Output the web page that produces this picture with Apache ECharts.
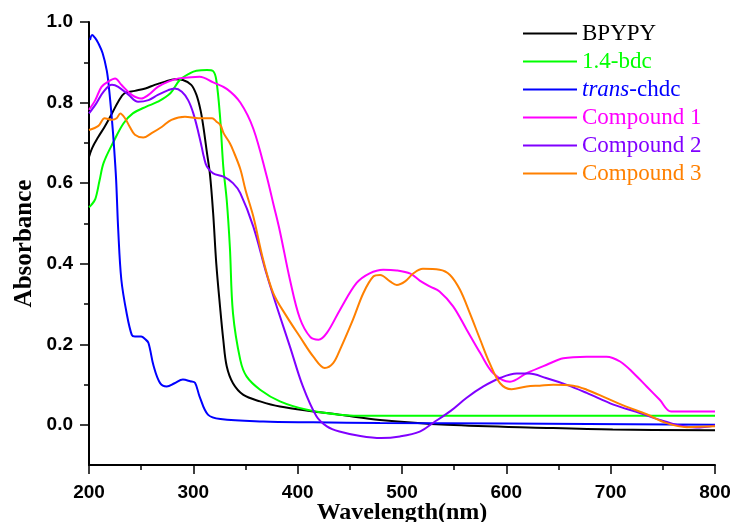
<!DOCTYPE html>
<html>
<head>
<meta charset="utf-8">
<script src="https://cdn.jsdelivr.net/npm/echarts@6/dist/echarts.min.js"></script>
<style>
  html, body { margin: 0; padding: 0; background: #fff; }
  #main { width: 734px; height: 522px; }
</style>
</head>
<body>
<div id="main"></div>
<script>
// 数据 [波长(nm), 吸光度]
var names = ['BPYPY', '1.4-bdc', 'trans-chdc', 'Compound 1', 'Compound 2', 'Compound 3'];
var colors = ['#000000', '#00ff00', '#0000ff', '#ff00ff', '#8000ff', '#ff8000'];
var xTicks = [200, 300, 400, 500, 600, 700, 800];

var bpypy = [[200,0.665],[203,0.687],[209,0.715],[215,0.74],[222,0.773],[228,0.802],[234,0.823],[244,0.829],
  [254,0.835],[263,0.844],[273,0.852],[282,0.858],[290,0.856],[298,0.844],[303,0.819],[307,0.78],[309.6,0.74],
  [312.8,0.68],[316,0.62],[319,0.525],[322,0.40],[325.6,0.293],[328.7,0.211],[332,0.145],[338,0.103],[348,0.074],
  [364,0.058],[383,0.045],[415,0.033],[440,0.025],[479,0.012],[543,0.0],[639,-0.008],[702,-0.012],[800,-0.014]];

var bdc = [[200,0.54],[202,0.545],[206,0.56],[210,0.605],[214,0.65],[223,0.70],[233,0.748],[242,0.773],[255,0.79],
  [266,0.802],[278,0.823],[287,0.856],[297,0.873],[303,0.879],[313,0.881],[319,0.878],[322,0.856],[325.6,0.765],
  [328.7,0.641],[332,0.558],[335,0.442],[338,0.277],[345,0.161],[351,0.12],[364,0.087],[383,0.058],[409,0.037],
  [440,0.025],[470,0.022],[800,0.022]];

var chdc = [[201,0.955],[203,0.968],[206,0.96],[209,0.947],[213,0.923],[217,0.88],[219,0.84],[222,0.757],[224,0.69],
  [226,0.608],[228,0.484],[231,0.36],[236,0.278],[241,0.223],[244,0.219],[250,0.219],[254,0.212],[257,0.203],
  [262,0.145],[268,0.104],[274.5,0.095],[282,0.103],[290,0.112],[297,0.108],[301.6,0.104],[306,0.07],[314,0.025],
  [326,0.014],[367,0.008],[415,0.006],[479,0.004],[600,0.003],[800,0.0]];

var comp1 = [[200,0.782],[206,0.806],[212,0.839],[218.5,0.852],[225,0.86],[231,0.844],[241,0.819],[250,0.81],
  [257,0.819],[266,0.839],[276,0.852],[286,0.86],[298,0.863],[306,0.864],[319,0.85],[332,0.834],[345,0.8],
  [357.5,0.735],[370,0.62],[377,0.545],[383,0.48],[392.6,0.36],[402,0.265],[412,0.218],[420,0.211],[428,0.228],
  [440.5,0.285],[456.5,0.352],[469,0.376],[482,0.385],[495,0.383],[508,0.375],[517,0.358],[527,0.343],[536,0.331],
  [549,0.294],[562,0.236],[575,0.178],[587.5,0.128],[603.5,0.107],[619.5,0.128],[638.7,0.149],[654.6,0.165],
  [677,0.169],[696,0.169],[709,0.157],[722,0.128],[734.5,0.095],[747,0.062],[758,0.033],[800,0.033]];

var comp2 = [[200,0.773],[207,0.798],[214,0.827],[222,0.844],[228,0.839],[238,0.819],[247,0.802],[257,0.806],
  [266,0.819],[276,0.831],[282,0.835],[289,0.827],[295,0.806],[300,0.773],[305,0.724],[308,0.69],[310,0.666],
  [313,0.641],[319,0.624],[329,0.616],[338,0.6],[345,0.575],[357.5,0.492],[370,0.376],[380,0.293],[392.6,0.194],
  [405,0.095],[418,0.021],[428,-0.004],[440,-0.017],[460,-0.028],[480,-0.033],[498,-0.029],[517,-0.017],[530,0.005],
  [547,0.035],[562,0.067],[578,0.095],[594,0.116],[610,0.127],[622,0.127],[638,0.116],[658,0.099],[677,0.079],
  [702.6,0.05],[728,0.029],[747,0.012],[766,-0.002],[782,-0.007],[800,-0.002]];

var comp3 = [[200,0.732],[209,0.742],[215,0.761],[222,0.757],[226.5,0.761],[230,0.773],[234.5,0.761],[239,0.74],
  [244,0.72],[252,0.713],[260,0.724],[270,0.74],[279,0.757],[292,0.765],[305,0.761],[318,0.761],[322,0.753],
  [326,0.744],[329,0.724],[335,0.699],[338,0.682],[345,0.635],[350,0.583],[357.5,0.517],[367,0.409],[376.6,0.327],
  [389.4,0.269],[402,0.219],[415,0.169],[426,0.141],[434,0.153],[440.5,0.186],[453,0.261],[463,0.327],[472.5,0.368],
  [479,0.372],[488.5,0.356],[495,0.347],[503,0.356],[511,0.376],[520,0.387],[536,0.385],[546,0.372],[555.6,0.335],
  [565,0.277],[575,0.211],[584,0.153],[594,0.103],[605,0.088],[619.5,0.095],[632,0.097],[645,0.099],[664,0.097],
  [677,0.087],[696,0.066],[715,0.045],[734.5,0.026],[753.6,0.004],[773,-0.006],[800,-0.004]];

var allData = [bpypy, bdc, chdc, comp1, comp2, comp3];

var chart = echarts.init(document.getElementById('main'));

var tickFont = { fontFamily: 'Liberation Sans', fontWeight: 'bold', fontSize: 19, color: '#000' };

var series = [];
for (var i = 0; i < names.length; i++) {
    series.push({
        name: names[i],
        type: 'line',
        xAxisIndex: 0,
        yAxisIndex: 0,
        data: allData[i],
        symbol: 'none',
        smooth: 0.35,
        lineStyle: { color: colors[i], width: 2 },
        itemStyle: { color: colors[i] }
    });
}

var legendData = names.map(function(n, i) {
    return {
        name: n,
        textStyle: {
            color: colors[i],
            rich: { i: { fontStyle: 'italic', color: colors[i], fontFamily: 'Liberation Serif', fontSize: 23 } }
        }
    };
});

option = {
    animation: false,
    backgroundColor: '#fff',
    legend: {
        orient: 'vertical',
        left: 523,
        top: 22,
        padding: 0,
        icon: 'rect',
        itemWidth: 54,
        itemHeight: 2,
        itemGap: 5,
        data: legendData,
        formatter: function(name) {
            return name === 'trans-chdc' ? '{i|trans}-chdc' : name;
        },
        textStyle: {
            fontFamily: 'Liberation Serif',
            fontSize: 23,
            lineHeight: 22,
            rich: { i: { fontStyle: 'italic', fontFamily: 'Liberation Serif', fontSize: 23, lineHeight: 22 } }
        }
    },
    // grid 0: 整个坐标区 (-0.1 ~ 1.0); grid 1: 只用来画 0 ~ 1.0 的刻度
    grid: [
        { left: 89, right: 19, top: 22, height: 443, outerBoundsMode: 'none' },
        { left: 89, right: 19, top: 22, height: 403, outerBoundsMode: 'none' }
    ],
    xAxis: [{
        gridIndex: 0,
        type: 'value',
        min: 200,
        max: 800,
        interval: 100,
        name: 'Wavelength(nm)',
        nameLocation: 'middle',
        nameGap: 36,
        nameMoveOverlap: false,
        nameTextStyle: { fontFamily: 'Liberation Serif', fontWeight: 'bold', fontSize: 24, color: '#000' },
        axisLine: { onZero: false, lineStyle: { color: '#000', width: 2 } },
        axisTick: { inside: false, length: 9, lineStyle: { color: '#000', width: 1.5 } },
        minorTick: { show: true, splitNumber: 2, length: 5, lineStyle: { color: '#000', width: 1.5 } },
        axisLabel: Object.assign({ margin: 18 }, tickFont),
        splitLine: { show: false }
    }, {
        gridIndex: 1,
        type: 'value',
        min: 200,
        max: 800,
        show: false
    }],
    yAxis: [{
        gridIndex: 0,
        type: 'value',
        min: -0.1,
        max: 1.0,
        name: 'Absorbance',
        nameLocation: 'middle',
        nameGap: 52,
        nameMoveOverlap: false,
        nameTextStyle: { fontFamily: 'Liberation Serif', fontWeight: 'bold', fontSize: 25, color: '#000' },
        axisLine: { show: true, onZero: false, lineStyle: { color: '#000', width: 2 } },
        axisTick: { show: false },
        axisLabel: { show: false },
        splitLine: { show: false }
    }, {
        gridIndex: 1,
        type: 'value',
        min: 0,
        max: 1.0,
        interval: 0.2,
        axisLine: { show: false },
        axisTick: { show: true, inside: false, length: 9, lineStyle: { color: '#000', width: 1.5 } },
        minorTick: { show: true, splitNumber: 2, length: 5, lineStyle: { color: '#000', width: 1.5 } },
        axisLabel: Object.assign({ margin: 16, formatter: function(v) { return v.toFixed(1); } }, tickFont),
        splitLine: { show: false }
    }],
    series: series
};

chart.setOption(option);
</script>
</body>
</html>
